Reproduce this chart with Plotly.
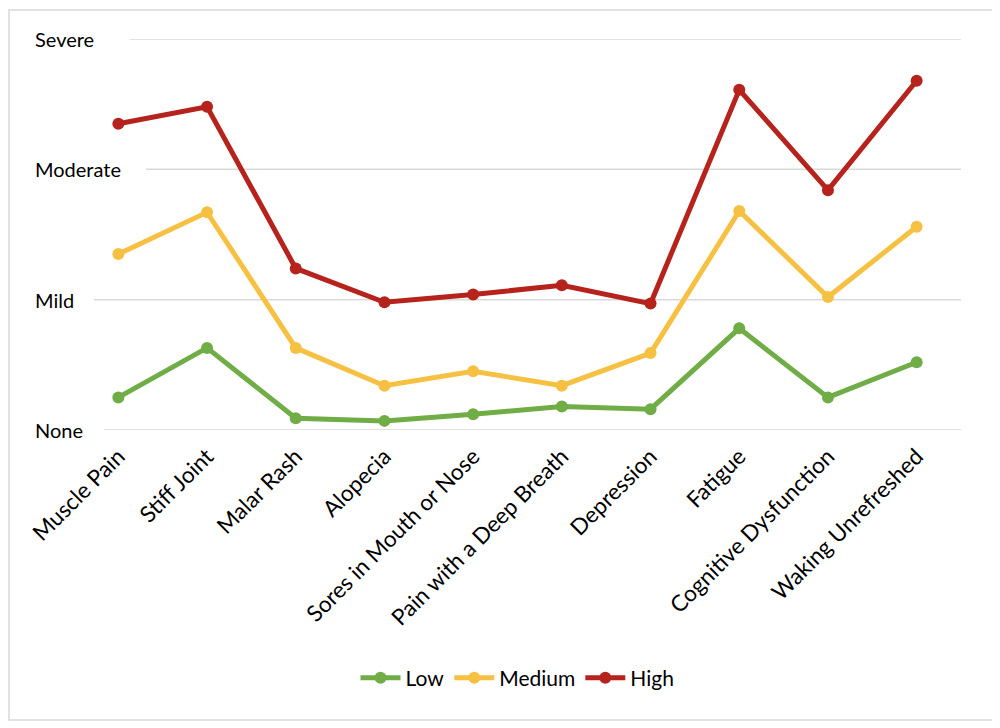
import plotly.graph_objects as go

categories = ["Muscle Pain", "Stiff Joint", "Malar Rash", "Alopecia", "Sores in Mouth or Nose",
              "Pain with a Deep Breath", "Depression", "Fatigue", "Cognitive Dysfunction",
              "Waking Unrefreshed"]
low = [0.25, 0.63, 0.09, 0.07, 0.12, 0.18, 0.16, 0.78, 0.25, 0.52]
medium = [1.35, 1.67, 0.63, 0.34, 0.45, 0.34, 0.59, 1.68, 1.02, 1.56]
high = [2.35, 2.48, 1.24, 0.98, 1.04, 1.11, 0.97, 2.61, 1.84, 2.68]
tick_vals = [0, 1, 2, 3]
tick_text = ["None", "Mild", "Moderate", "Severe"]

# page body has an 8px margin; figure pixel coordinates are page coordinates minus 8
OFF = 8
grid_start_px = [104 - OFF, 94 - OFF, 146 - OFF, 130 - OFF]

W, H = 992, 720
L, R, T, B = 74 - OFF, 39, 39 - OFF, 298
pw = W - L - R
ph = H - T - B

def px_x(p):
    return (p - L) / pw

def px_y(p):
    return (H - B - p) / ph

fig = go.Figure()
series = [("Low", low, "#70AD47"), ("Medium", medium, "#F6C143"), ("High", high, "#B6231C")]
for name, vals, col in series:
    fig.add_trace(go.Scatter(x=categories, y=vals, name=name, mode="lines+markers",
                             line=dict(color=col, width=5),
                             marker=dict(color=col, size=12)))

shapes = []
for v, gx in zip(tick_vals, grid_start_px):
    shapes.append(dict(type="line", xref="paper", yref="y", x0=px_x(gx), x1=1, y0=v, y1=v,
                       line=dict(color="#D9D9D9", width=1.5), layer="below"))
shapes.append(dict(type="rect", xref="paper", yref="paper",
                   x0=px_x(1), x1=px_x(993 - OFF), y0=px_y(720 - OFF), y1=px_y(10 - OFF),
                   line=dict(color="#D9D9D9", width=1.5), layer="below"))

annotations = []
for v, t in zip(tick_vals, tick_text):
    annotations.append(dict(x=px_x(33 - OFF), xref="paper", y=v, yref="y", text=t, showarrow=False,
                            xanchor="left", yanchor="middle",
                            font=dict(family="Lato", size=20, color="#000000")))

fig.update_layout(
    width=W, height=H,
    margin=dict(l=L, r=R, t=T, b=B),
    paper_bgcolor="white", plot_bgcolor="white",
    font=dict(family="Lato", size=20, color="#000000"),
    shapes=shapes, annotations=annotations,
    showlegend=True,
    legend=dict(orientation="h", x=0.5, xanchor="center", y=px_y(678 - OFF), yanchor="middle",
                font=dict(family="Lato", size=21), itemwidth=40),
    xaxis=dict(type="category", tickangle=-45, showgrid=False, showline=False, ticks="",
               range=[-0.5, len(categories) - 0.5], tickfont=dict(family="Lato", size=22.5),
               ticklabelstandoff=8),
    yaxis=dict(range=[0, 3], showgrid=False, showticklabels=False, zeroline=False,
               showline=False, fixedrange=True),
)

fig.write_html("out.html")
